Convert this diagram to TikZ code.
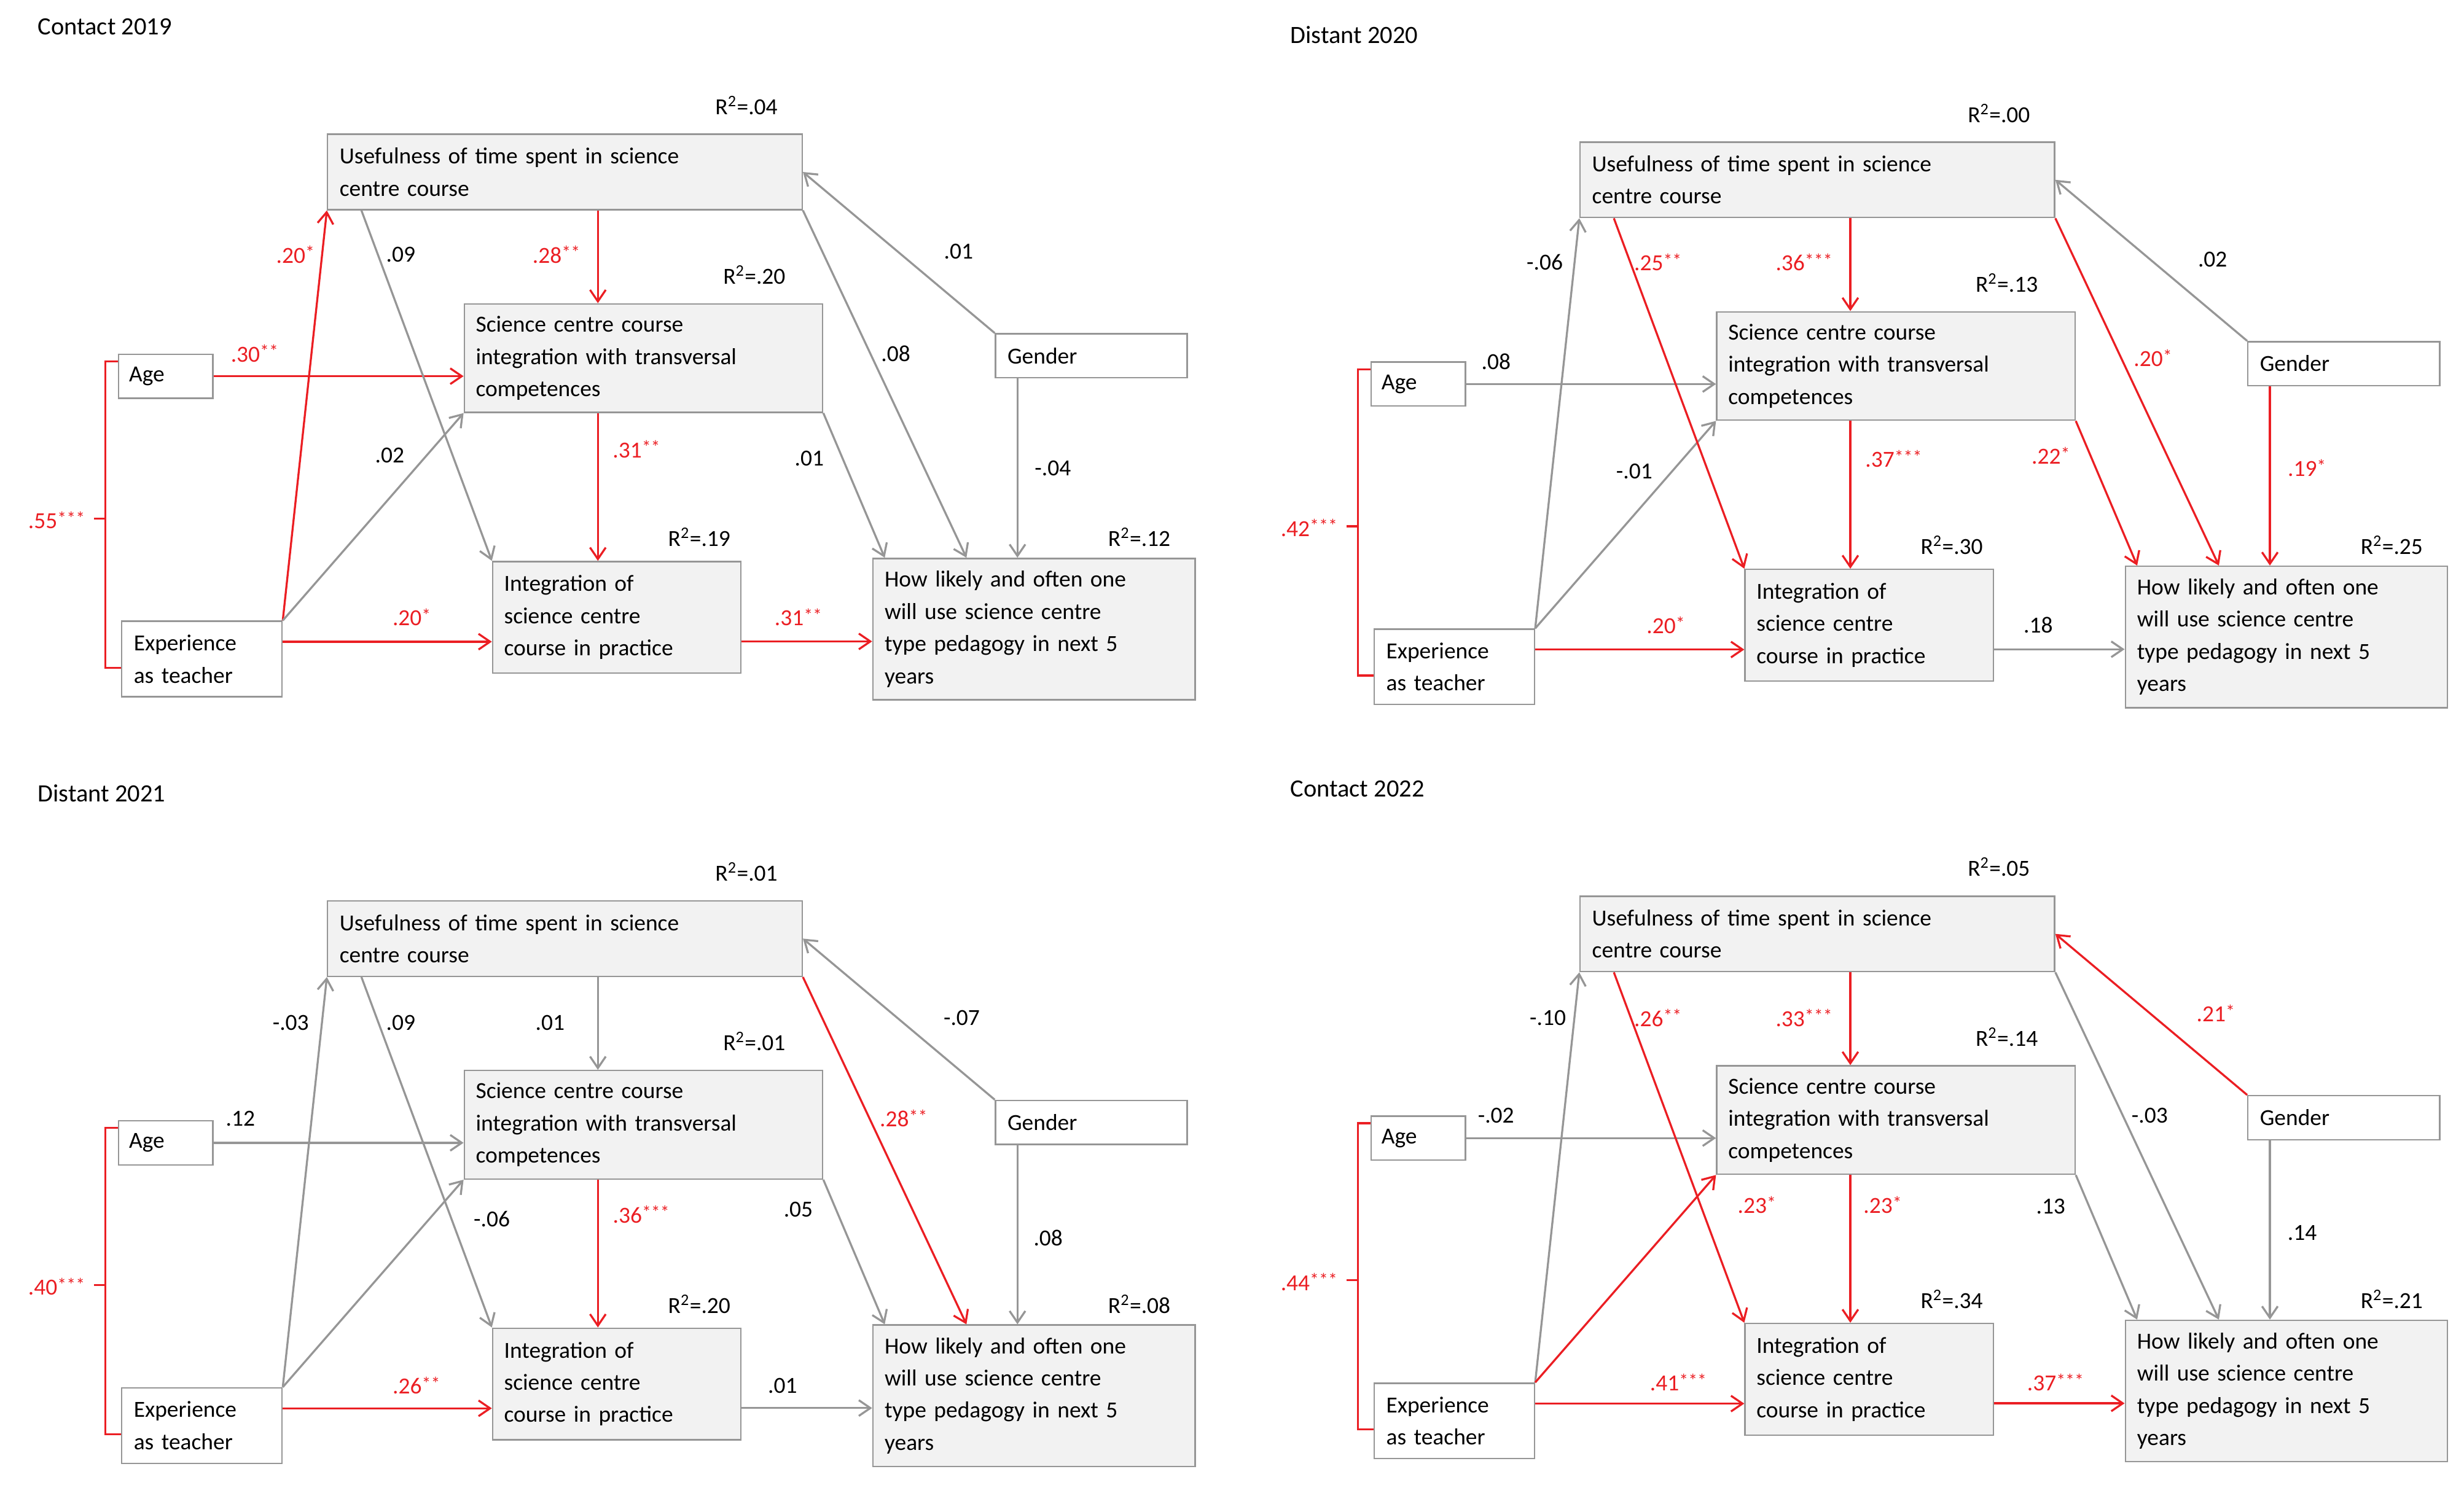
\documentclass[tikz,border=0pt]{standalone}
\usepackage{fontspec}
\setmainfont{Carlito}
\usetikzlibrary{arrows.meta,calc}
\definecolor{rr}{RGB}{235,30,35}
\definecolor{gg}{RGB}{150,150,150}
\definecolor{bx}{RGB}{242,242,242}
\newcommand\lab{\fontsize{12.5}{17.5}\selectfont}
\newcommand\ttl{\fontsize{13.5}{16}\selectfont}
\newcommand\st[1]{\raisebox{.35ex}{\fontsize{10}{10}\selectfont #1}}
\tikzset{
 box/.style={draw=gg,fill=bx,align=left,inner sep=0.2cm,anchor=north west,font=\lab,line width=0.8pt},
 wbox/.style={box,fill=white},
 rd/.style={draw=rr,line width=1.1pt,-{Straight Barb[length=2.2mm,width=3mm]}},
 gy/.style={draw=gg,line width=1.1pt,-{Straight Barb[length=2.2mm,width=3mm]}},
}
\newcommand\lb[4]{\node[font=\lab,text=#1] at (#2,#3) {#4};}
\newcommand\panel[9]{%
\begin{scope}[shift={(#2,#3)}]
\node[anchor=west,font=\ttl] (#1T) at (20,17) {#4};
\node[box,minimum width=9.06cm,minimum height=1.44cm,text width=8.6cm] (#1U) at (208,85) {Usefulness of time spent in science\\centre course};
\node[box,minimum width=6.84cm,minimum height=2.07cm,text width=6.4cm] (#1S) at (295,193) {Science centre course\\integration with transversal\\competences};
\node[wbox,minimum width=1.8cm,minimum height=0.84cm,text width=1.4cm] (#1A) at (75,225) {Age};
\node[wbox,minimum width=3.06cm,minimum height=1.44cm,text width=2.6cm] (#1E) at (77,395) {Experience\\as teacher};
\node[box,minimum width=4.74cm,minimum height=2.13cm,text width=4.3cm] (#1I) at (313,357) {Integration of\\science centre\\course in practice};
\node[box,minimum width=6.15cm,minimum height=2.7cm,text width=5.7cm] (#1H) at (555,355) {How likely and often one\\will use science centre\\type pedagogy in next 5\\years};
\node[wbox,minimum width=3.66cm,minimum height=0.84cm,text width=3.2cm] (#1G) at (633,212) {Gender};
\node[font=\lab] (#1r1) at (475,67) {R\textsuperscript{2}=#5};
\node[font=\lab] (#1r2) at (480,175) {R\textsuperscript{2}=#6};
\node[font=\lab] (#1r3) at (445,342) {R\textsuperscript{2}=#7};
\node[font=\lab] (#1r4) at (725,342) {R\textsuperscript{2}=#8};
\draw[draw=rr,line width=1.1pt] (75,230) -- (67,230) -- (67,425) -- (77,425);
\draw[draw=rr,line width=1.1pt] (67,330) -- (60,330);
\lb{rr}{36}{331}{#9}
\end{scope}}
\newcommand\edges[1]{%
\draw[eXU] (#1E.north east) -- (#1U.south west);
\draw[eUS] ([xshift=.63cm]#1U.south) -- ([xshift=.63cm]#1U.south |- #1S.north);
\draw[eAS] (#1A.east) -- (#1A.east -| #1S.west);
\draw[eXS] (#1E.north east) -- (#1S.south west);
\draw[eUI] ([xshift=.66cm]#1U.south west) -- (#1I.north west);
\draw[eSI] ([xshift=-.87cm]#1S.south) -- ([xshift=-.87cm]#1S.south |- #1I.north);
\draw[eXI] ([yshift=.33cm]#1E.east) -- ([yshift=.33cm]#1E.east -| #1I.west);
\draw[eIH] ([yshift=-.46cm]#1I.east) -- ([yshift=-.46cm]#1I.east -| #1H.west);
\draw[eSH] (#1S.south east) -- ([xshift=.24cm]#1H.north west);
\draw[eUH] (#1U.south east) -- ([xshift=1.8cm]#1H.north west);
\draw[eGU] (#1G.north west) -- (#1U.east);
\draw[eGH] ([xshift=-1.41cm]#1G.south) -- ([xshift=-1.41cm]#1G.south |- #1H.north);
}
\begin{document}
\begin{tikzpicture}[x=0.03cm,y=-0.03cm]
\useasboundingbox (0,0) rectangle (1568,947);
% Panel 1
\panel{a}{0}{0}{Contact 2019}{.04}{.20}{.19}{.12}{.55\st{***}}
\tikzset{eXU/.style=rd,eUS/.style=rd,eAS/.style=rd,eXS/.style=gy,eUI/.style=gy,eSI/.style=rd,eXI/.style=rd,eIH/.style=rd,eSH/.style=gy,eUH/.style=gy,eGU/.style=gy,eGH/.style=gy}
\edges{a}
\begin{scope}
\lb{rr}{188}{162}{.20\st{*}}\lb{black}{255}{162}{.09}\lb{rr}{354}{162}{.28\st{**}}
\lb{rr}{162}{225}{.30\st{**}}\lb{black}{248}{290}{.02}\lb{rr}{405}{286}{.31\st{**}}
\lb{rr}{262}{393}{.20\st{*}}\lb{rr}{508}{393}{.31\st{**}}\lb{black}{515}{292}{.01}
\lb{black}{570}{225}{.08}\lb{black}{610}{160}{.01}\lb{black}{670}{298}{-.04}
\end{scope}
% Panel 2
\panel{b}{797}{5}{Distant 2020}{.00}{.13}{.30}{.25}{.42\st{***}}
\tikzset{eXU/.style=gy,eUS/.style=rd,eAS/.style=gy,eXS/.style=gy,eUI/.style=rd,eSI/.style=rd,eXI/.style=rd,eIH/.style=gy,eSH/.style=rd,eUH/.style=rd,eGU/.style=gy,eGH/.style=rd}
\edges{b}
\begin{scope}[shift={(797,5)}]
\lb{black}{186}{162}{-.06}\lb{rr}{258}{162}{.25\st{**}}\lb{rr}{351}{162}{.36\st{***}}
\lb{rr}{573}{223}{.20\st{*}}\lb{black}{611}{160}{.02}\lb{black}{155}{225}{.08}
\lb{black}{243}{295}{-.01}\lb{rr}{408}{287}{.37\st{***}}\lb{rr}{508}{285}{.22\st{*}}
\lb{rr}{671}{293}{.19\st{*}}\lb{rr}{263}{393}{.20\st{*}}\lb{black}{500}{393}{.18}
\end{scope}
% Panel 3
\panel{c}{0}{488}{Distant 2021}{.01}{.01}{.20}{.08}{.40\st{***}}
\tikzset{eXU/.style=gy,eUS/.style=gy,eAS/.style=gy,eXS/.style=gy,eUI/.style=gy,eSI/.style=rd,eXI/.style=rd,eIH/.style=gy,eSH/.style=gy,eUH/.style=rd,eGU/.style=gy,eGH/.style=gy}
\edges{c}
\begin{scope}[shift={(0,488)}]
\lb{black}{185}{163}{-.03}\lb{black}{255}{163}{.09}\lb{black}{350}{163}{.01}
\lb{rr}{575}{224}{.28\st{**}}\lb{black}{612}{160}{-.07}\lb{black}{153}{224}{.12}
\lb{black}{313}{288}{-.06}\lb{rr}{408}{285}{.36\st{***}}\lb{black}{508}{282}{.05}
\lb{black}{667}{300}{.08}\lb{rr}{265}{394}{.26\st{**}}\lb{black}{498}{394}{.01}
\end{scope}
% Panel 4
\panel{d}{797}{485}{Contact 2022}{.05}{.14}{.34}{.21}{.44\st{***}}
\tikzset{eXU/.style=gy,eUS/.style=rd,eAS/.style=gy,eXS/.style=rd,eUI/.style=rd,eSI/.style=rd,eXI/.style=rd,eIH/.style=rd,eSH/.style=gy,eUH/.style=gy,eGU/.style=rd,eGH/.style=gy}
\edges{d}
\begin{scope}[shift={(797,485)}]
\lb{black}{188}{163}{-.10}\lb{rr}{258}{163}{.26\st{**}}\lb{rr}{351}{163}{.33\st{***}}
\lb{black}{571}{225}{-.03}\lb{rr}{613}{160}{.21\st{*}}\lb{black}{155}{225}{-.02}
\lb{rr}{321}{282}{.23\st{*}}\lb{rr}{401}{282}{.23\st{*}}\lb{black}{508}{283}{.13}
\lb{black}{668}{300}{.14}\lb{rr}{271}{395}{.41\st{***}}\lb{rr}{511}{395}{.37\st{***}}
\end{scope}
\end{tikzpicture}
\end{document}
